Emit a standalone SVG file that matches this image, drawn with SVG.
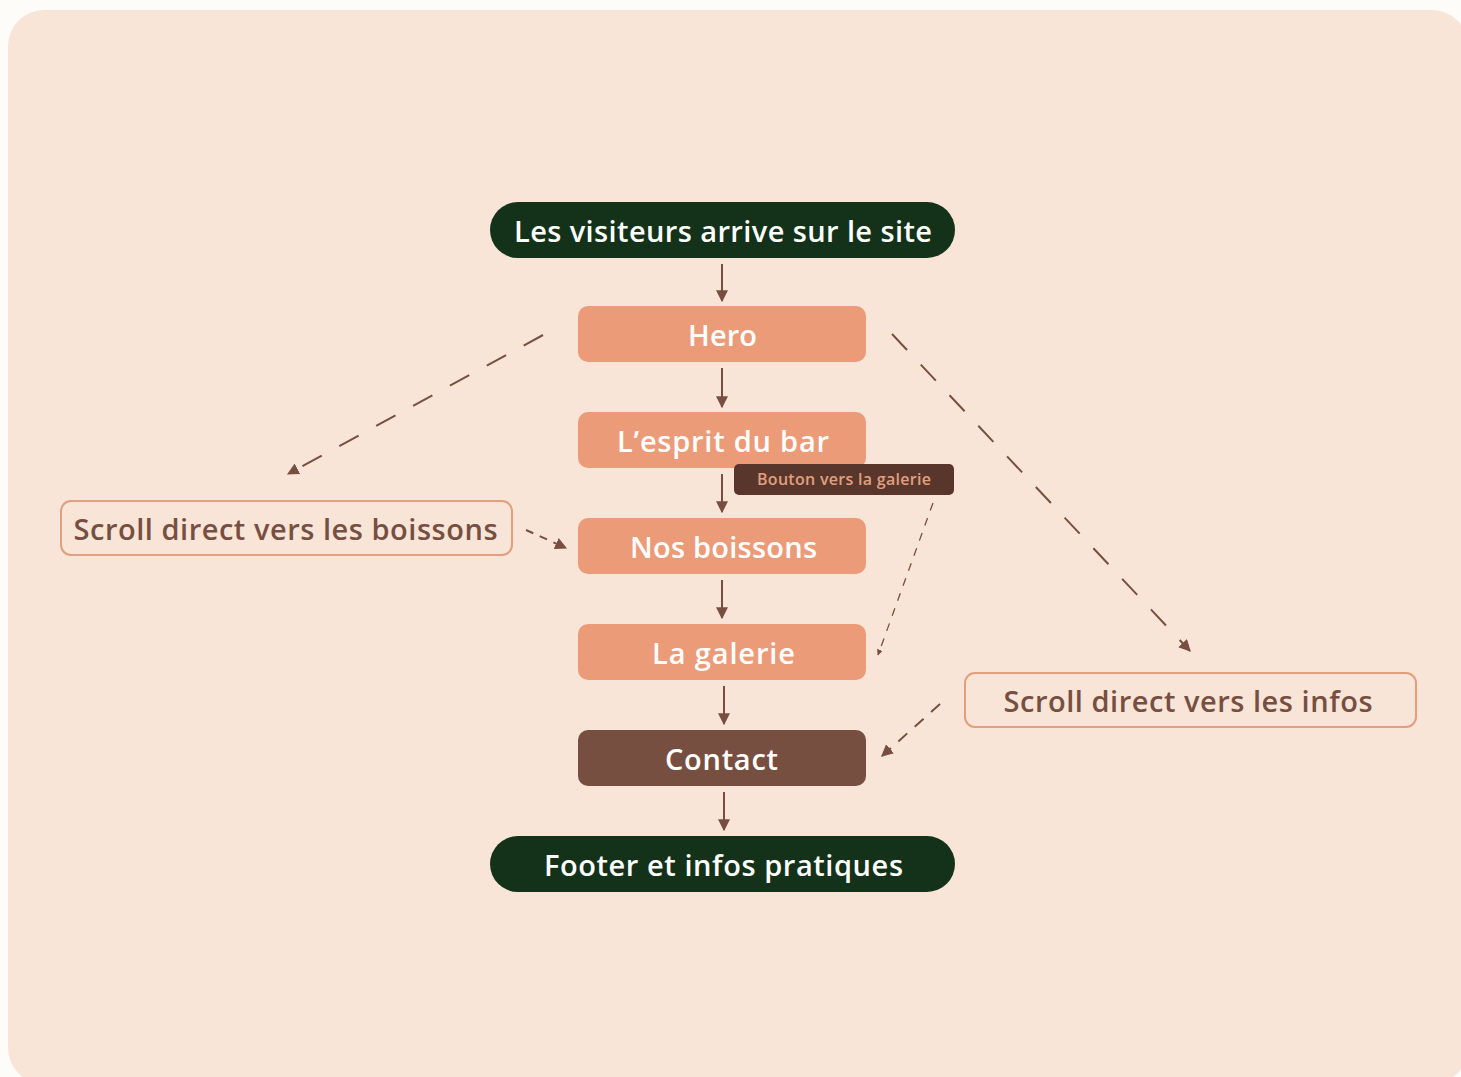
<svg xmlns="http://www.w3.org/2000/svg" width="1461" height="1077" viewBox="0 0 1461 1077">
<defs>
<style>
.t{font-family:"Open Sans","Noto Sans","Liberation Sans",sans-serif;text-anchor:middle;dominant-baseline:central}
.wt{fill:#ffffff;font-size:29px;font-weight:600}
.bt{fill:#774f40;font-size:29px;font-weight:600}
.pill{fill:#14321a}
.box{fill:#ec9b78}
.out{fill:none;stroke:#e0a07e;stroke-width:2}
.ln{stroke:#774f40;stroke-width:2;fill:none}
</style>
<marker id="ah" viewBox="0 0 10 10" refX="9" refY="5" markerWidth="12" markerHeight="12" markerUnits="userSpaceOnUse" orient="auto">
<path d="M0,0 L10,5 L0,10 Z" fill="#774f40"/>
</marker>
<marker id="ahs" viewBox="0 0 10 10" refX="9" refY="5" markerWidth="6" markerHeight="6" markerUnits="userSpaceOnUse" orient="auto">
<path d="M0,0 L10,5 L0,10 Z" fill="#774f40"/>
</marker>
</defs>
<rect x="0" y="0" width="1461" height="1077" fill="#fefcf8"/>
<rect x="8" y="10" width="1460" height="1074" rx="36" fill="#f8e5d8"/>

<g id="connectors">
<line class="ln" x1="722" y1="264" x2="722" y2="301" marker-end="url(#ah)"/>
<line class="ln" x1="722" y1="368" x2="722" y2="407" marker-end="url(#ah)"/>
<line class="ln" x1="722" y1="474" x2="722" y2="512" marker-end="url(#ah)"/>
<line class="ln" x1="722" y1="580" x2="722" y2="618" marker-end="url(#ah)"/>
<line class="ln" x1="724" y1="686" x2="724" y2="724" marker-end="url(#ah)"/>
<line class="ln" x1="724" y1="792" x2="724" y2="830" marker-end="url(#ah)"/>
<line class="ln" x1="543" y1="335" x2="288" y2="474" stroke-dasharray="22 20" marker-end="url(#ah)"/>
<line class="ln" x1="892" y1="334" x2="1190" y2="651" stroke-dasharray="22 20" marker-end="url(#ah)"/>
<line class="ln" x1="526" y1="530" x2="566" y2="548" stroke-dasharray="8 7" marker-end="url(#ah)"/>
<line class="ln" x1="940" y1="704" x2="882" y2="756" stroke-dasharray="12 10" marker-end="url(#ah)"/>
<line x1="933" y1="503" x2="878" y2="655" stroke="#774f40" stroke-width="1.3" stroke-dasharray="8 8" marker-end="url(#ahs)"/>
</g>

<g id="start">
<rect class="pill" x="490" y="202" width="465" height="56" rx="28"/>
<text class="t wt" x="723" y="230" textLength="418" lengthAdjust="spacing">Les visiteurs arrive sur le site</text>
</g>
<g id="hero">
<rect class="box" x="578" y="306" width="288" height="56" rx="10"/>
<text class="t wt" x="722.5" y="334" textLength="69" lengthAdjust="spacing">Hero</text>
</g>
<g id="esprit">
<rect class="box" x="578" y="412" width="288" height="56" rx="10"/>
<text class="t wt" x="723" y="440" textLength="212" lengthAdjust="spacing">L’esprit du bar</text>
</g>
<g id="bouton">
<rect x="734" y="464" width="220" height="31" rx="5" fill="#58362c"/>
<text class="t" x="844" y="479" textLength="174" lengthAdjust="spacing" style="fill:#e0a07e;font-size:16px;font-weight:600">Bouton vers la galerie</text>
</g>
<g id="boissons">
<rect class="box" x="578" y="518" width="288" height="56" rx="10"/>
<text class="t wt" x="723.5" y="546" textLength="187" lengthAdjust="spacing">Nos boissons</text>
</g>
<g id="galerie">
<rect class="box" x="578" y="624" width="288" height="56" rx="10"/>
<text class="t wt" x="723.5" y="652" textLength="143" lengthAdjust="spacing">La galerie</text>
</g>
<g id="contact">
<rect x="578" y="730" width="288" height="56" rx="10" fill="#774f40"/>
<text class="t wt" x="721.5" y="758" textLength="113" lengthAdjust="spacing">Contact</text>
</g>
<g id="footer">
<rect class="pill" x="490" y="836" width="465" height="56" rx="28"/>
<text class="t wt" x="723.5" y="864" textLength="359" lengthAdjust="spacing">Footer et infos pratiques</text>
</g>
<g id="scroll-boissons">
<rect class="out" x="61" y="501" width="451" height="54" rx="10"/>
<text class="t bt" x="285.5" y="528" textLength="424" lengthAdjust="spacing">Scroll direct vers les boissons</text>
</g>
<g id="scroll-infos">
<rect class="out" x="965" y="673" width="451" height="54" rx="10"/>
<text class="t bt" x="1188" y="700" textLength="369" lengthAdjust="spacing">Scroll direct vers les infos</text>
</g>
</svg>
